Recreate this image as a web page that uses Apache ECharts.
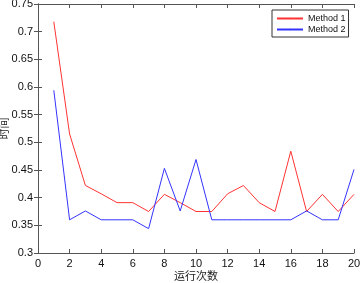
<!DOCTYPE html>
<html>
<head>
<meta charset="utf-8">
<script src="https://cdn.jsdelivr.net/npm/echarts@6/dist/echarts.min.js"></script>
<style>
html,body{margin:0;padding:0;background:#fff;}
#chart{width:361px;height:283px;}
</style>
</head>
<body>
<div id="chart"></div>
<script>
// 运行次数
var runs = [1,2,3,4,5,6,7,8,9,10,11,12,13,14,15,16,17,18,19,20];
var method1 = [0.718,0.515,0.422,0.407,0.391,0.391,0.375,0.406,0.391,0.375,0.375,0.407,0.422,0.391,0.375,0.484,0.375,0.406,0.375,0.406];
var method2 = [0.594,0.360,0.376,0.360,0.360,0.360,0.344,0.453,0.376,0.469,0.360,0.360,0.360,0.360,0.360,0.360,0.376,0.360,0.360,0.451];

var chart = echarts.init(document.getElementById('chart'));
var font = 'Liberation Sans, Arial, sans-serif';
var axisColor = '#555';

function pairs(ys) {
	return runs.map(function (x, i) { return [x, ys[i]]; });
}

var tickStyle = {show: true, inside: true, length: 4, lineStyle: {color: axisColor}};

var option = {
	animation: false,
	grid: {left: 38, right: 7, top: 4, bottom: 30, containLabel: false, outerBoundsMode: 'none'},
	legend: {
		orient: 'vertical',
		left: 272,
		top: 10,
		itemWidth: 26,
		itemHeight: 2,
		itemGap: 0,
		padding: [3, 3, 2, 4],
		borderColor: '#333',
		borderWidth: 1,
		backgroundColor: '#fff',
		textStyle: {fontFamily: font, fontSize: 9, lineHeight: 11, color: '#111'},
		data: ['Method 1', 'Method 2']
	},
	xAxis: [{
		type: 'value',
		min: 0, max: 20, interval: 2,
		name: '运行次数',
		nameLocation: 'middle',
		nameGap: 17,
		nameMoveOverlap: false,
		nameTextStyle: {fontFamily: 'Noto Sans CJK SC', fontSize: 11, color: '#222'},
		axisLine: {lineStyle: {color: axisColor}},
		axisTick: tickStyle,
		axisLabel: {fontFamily: font, fontSize: 11, color: '#111', margin: 5},
		splitLine: {show: false}
	}, {
		type: 'value',
		position: 'top',
		min: 0, max: 20, interval: 2,
		axisLine: {show: true, lineStyle: {color: axisColor}},
		axisTick: tickStyle,
		axisLabel: {show: false},
		splitLine: {show: false}
	}],
	yAxis: [{
		type: 'value',
		min: 0.3, max: 0.75, interval: 0.05,
		name: '时间',
		nameLocation: 'middle',
		nameGap: 29,
		nameMoveOverlap: false,
		nameTextStyle: {fontFamily: 'Noto Sans CJK SC', fontSize: 11, color: '#222'},
		axisLine: {show: true, lineStyle: {color: axisColor}},
		axisTick: tickStyle,
		axisLabel: {fontFamily: font, fontSize: 11, color: '#111', margin: 5},
		splitLine: {show: false}
	}, {
		type: 'value',
		position: 'right',
		min: 0.3, max: 0.75, interval: 0.05,
		axisLine: {show: true, lineStyle: {color: axisColor}},
		axisTick: tickStyle,
		axisLabel: {show: false},
		splitLine: {show: false}
	}],
	series: [{
		name: 'Method 1',
		type: 'line',
		data: pairs(method1),
		symbol: 'none',
		color: '#ff3333',
		lineStyle: {width: 1, color: '#ff3333'}
	}, {
		name: 'Method 2',
		type: 'line',
		data: pairs(method2),
		symbol: 'none',
		color: '#3333ff',
		lineStyle: {width: 1, color: '#3333ff'}
	}]
};

chart.setOption(option);
</script>
</body>
</html>
